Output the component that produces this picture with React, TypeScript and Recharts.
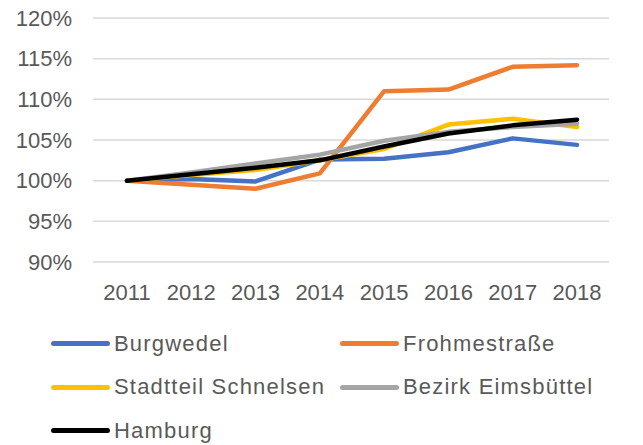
import { CartesianGrid, Line, LineChart, XAxis, YAxis } from "recharts";

const years = ["2011", "2012", "2013", "2014", "2015", "2016", "2017", "2018"];
const burgwedel = [100, 100.2, 99.9, 102.6, 102.7, 103.5, 105.2, 104.4];
const frohmestrasse = [100, 99.5, 99.0, 100.9, 111.0, 111.2, 114.0, 114.2];
const schnelsen = [100, 100.7, 101.3, 102.5, 103.9, 106.9, 107.6, 106.6];
const eimsbuettel = [100, 101.0, 102.1, 103.2, 104.9, 106.0, 106.6, 107.0];
const hamburg = [100, 100.8, 101.6, 102.5, 104.2, 105.8, 106.8, 107.5];
const yTicks = [90, 95, 100, 105, 110, 115, 120];

const series = [
  { key: "burgwedel", name: "Burgwedel", color: "#4472C4" },
  { key: "frohmestrasse", name: "Frohmestraße", color: "#ED7D31" },
  { key: "schnelsen", name: "Stadtteil Schnelsen", color: "#FFC000" },
  { key: "eimsbuettel", name: "Bezirk Eimsbüttel", color: "#A5A5A5" },
  { key: "hamburg", name: "Hamburg", color: "#000000" },
];

const data = years.map((year, i) => ({
  year,
  burgwedel: burgwedel[i],
  frohmestrasse: frohmestrasse[i],
  schnelsen: schnelsen[i],
  eimsbuettel: eimsbuettel[i],
  hamburg: hamburg[i],
}));

const font = "'Liberation Sans', Arial, sans-serif";
const tickStyle = { fill: "#595959", fontSize: 22, fontFamily: font };

function LegendBox() {
  return (
    <div
      style={{
        position: "absolute",
        left: 51,
        top: 322,
        display: "grid",
        gridTemplateColumns: "289px 290px",
        fontFamily: font,
        fontSize: 22,
        letterSpacing: 1.2,
        color: "#595959",
      }}
    >
      {series.map((s) => (
        <div key={s.key} style={{ display: "flex", alignItems: "center", height: 43.5, whiteSpace: "nowrap" }}>
          <span
            style={{
              display: "inline-block",
              width: 59,
              height: 5,
              borderRadius: 3,
              background: s.color,
              marginRight: 4,
              flexShrink: 0,
            }}
          />
          <span>{s.name}</span>
        </div>
      ))}
    </div>
  );
}

export default function App() {
  return (
    <div style={{ position: "absolute", left: 0, top: 0, width: 643, height: 445, background: "#fff" }}>
      <LineChart width={643} height={445} data={data} margin={{ top: 18, right: 34, left: 0, bottom: 143 }}>
        <CartesianGrid stroke="#D9D9D9" strokeWidth={1.5} vertical={false} />
        <XAxis
          dataKey="year"
          axisLine={false}
          tickLine={false}
          tickSize={0}
          tickMargin={22}
          height={40}
          tick={tickStyle}
          interval={0}
          padding={{ left: 34, right: 32 }}
        />
        <YAxis
          domain={[90, 120]}
          ticks={yTicks}
          width={93}
          axisLine={false}
          tickLine={false}
          tickSize={0}
          tickMargin={21}
          tick={tickStyle}
          tickFormatter={(v: number) => `${v}%`}
        />
        {series.map((s) => (
          <Line
            key={s.key}
            type="linear"
            dataKey={s.key}
            name={s.name}
            stroke={s.color}
            strokeWidth={4.5}
            strokeLinecap="round"
            strokeLinejoin="round"
            dot={false}
            activeDot={false}
            isAnimationActive={false}
          />
        ))}
      </LineChart>
      <LegendBox />
    </div>
  );
}
